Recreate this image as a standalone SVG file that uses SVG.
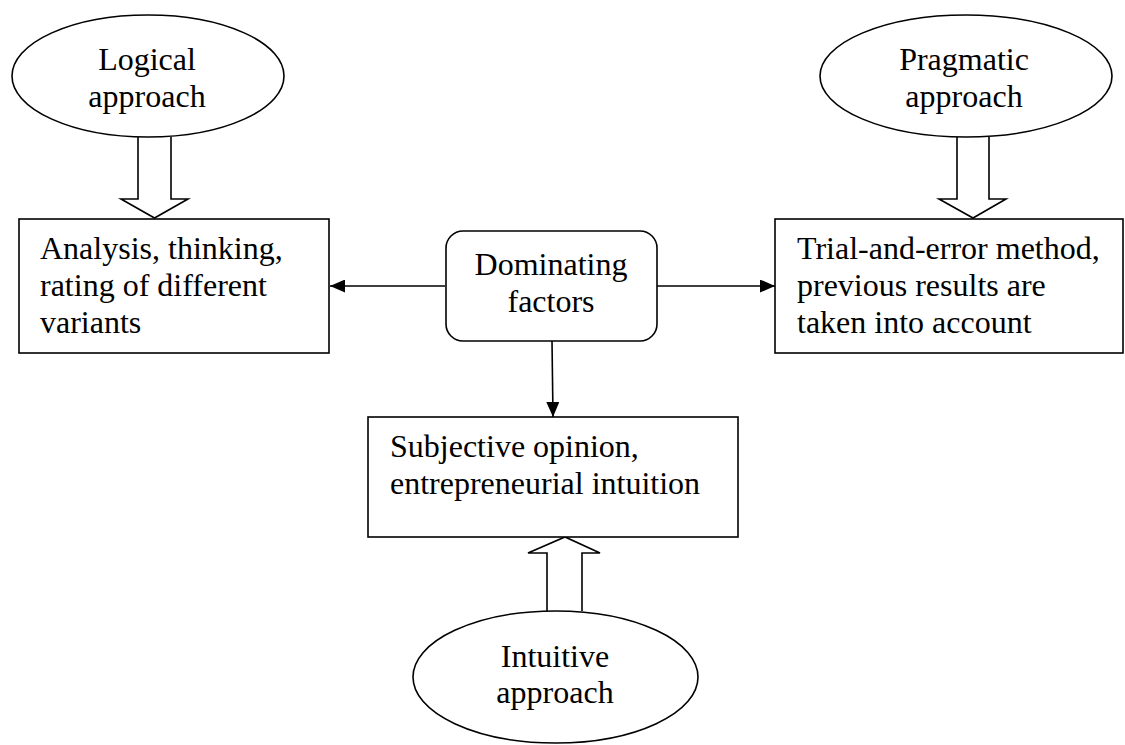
<svg xmlns="http://www.w3.org/2000/svg" width="1125" height="745" viewBox="0 0 1125 745">
<defs>
<style>
.s{fill:#fff;stroke:#000;stroke-width:1.6}
.c{fill:none;stroke:#000;stroke-width:1.6}
.t{font-family:'Liberation Serif','DejaVu Serif',serif;font-size:32px;fill:#000}
.m{text-anchor:middle}
</style>
<marker id="ah" viewBox="0 0 15 13" refX="15" refY="6.5" markerWidth="15" markerHeight="13" markerUnits="userSpaceOnUse" orient="auto">
<path d="M0,0 L15,6.5 L0,13 Z" fill="#000"/>
</marker>
</defs>
<rect width="1125" height="745" fill="#fff"/>
<g id="connectors">
<line class="c" x1="445" y1="286" x2="330" y2="286" marker-end="url(#ah)"/>
<line class="c" x1="657" y1="286" x2="775" y2="286" marker-end="url(#ah)"/>
<line class="c" x1="552" y1="341" x2="553" y2="417" marker-end="url(#ah)"/>
<path class="s" d="M138,137 L138,199 L121,199 L154.5,218 L188,199 L171,199 L171,137"/>
<path class="s" d="M957,137 L957,199 L939,199 L973,218 L1006,199 L989,199 L989,137"/>
<path class="s" d="M547,611 L547,553 L528,553 L565,537 L600,553 L582,553 L582,611"/>
</g>
<g id="logical" class="t" font-family="Liberation Serif, DejaVu Serif, serif">
<ellipse class="s" cx="148" cy="76" rx="136" ry="61"/>
<text class="m" x="147" y="70">Logical</text>
<text class="m" x="147" y="107">approach</text>
</g>
<g id="pragmatic" class="t" font-family="Liberation Serif, DejaVu Serif, serif">
<ellipse class="s" cx="966" cy="76" rx="146" ry="61"/>
<text class="m" x="964" y="70">Pragmatic</text>
<text class="m" x="964" y="107">approach</text>
</g>
<g id="analysis" class="t" font-family="Liberation Serif, DejaVu Serif, serif">
<rect class="s" x="19" y="219" width="310" height="134"/>
<text x="40" y="259">Analysis, thinking,</text>
<text x="40" y="296">rating of different</text>
<text x="40" y="333">variants</text>
</g>
<g id="dominating" class="t" font-family="Liberation Serif, DejaVu Serif, serif">
<rect class="s" x="446" y="231" width="211" height="110" rx="17" ry="17"/>
<text class="m" x="551" y="275">Dominating</text>
<text class="m" x="551" y="312">factors</text>
</g>
<g id="trial" class="t" font-family="Liberation Serif, DejaVu Serif, serif">
<rect class="s" x="775" y="219" width="348" height="134"/>
<text x="797" y="259">Trial-and-error method,</text>
<text x="797" y="296">previous results are</text>
<text x="797" y="333">taken into account</text>
</g>
<g id="subjective" class="t" font-family="Liberation Serif, DejaVu Serif, serif">
<rect class="s" x="368" y="417" width="370" height="120"/>
<text x="390" y="457">Subjective opinion,</text>
<text x="390" y="494">entrepreneurial intuition</text>
</g>
<g id="intuitive" class="t" font-family="Liberation Serif, DejaVu Serif, serif">
<ellipse class="s" cx="555.5" cy="677" rx="142.5" ry="66"/>
<text class="m" x="555" y="667">Intuitive</text>
<text class="m" x="555" y="703">approach</text>
</g>
</svg>
